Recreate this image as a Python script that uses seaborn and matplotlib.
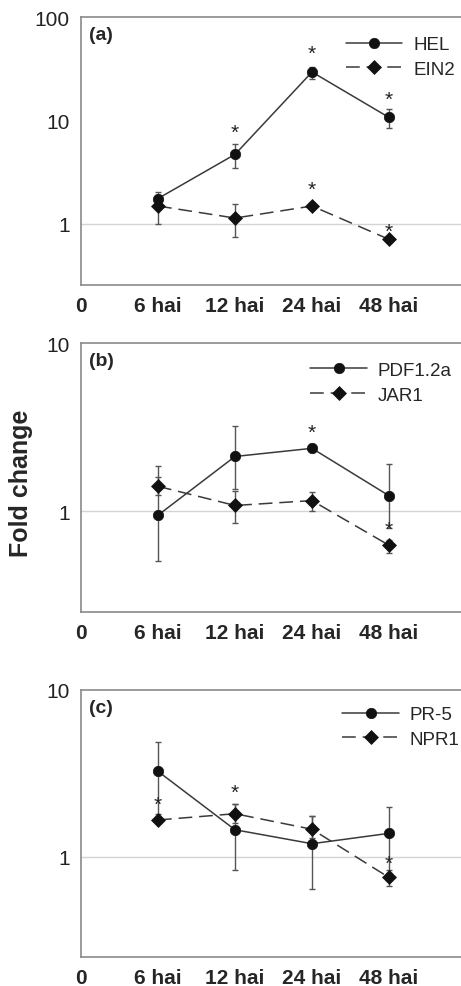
import numpy as np
import pandas as pd
import matplotlib
matplotlib.use("Agg")
import matplotlib.pyplot as plt
import seaborn as sns
from matplotlib.ticker import FixedLocator, FixedFormatter, NullLocator

# ---------------- data ----------------
x_labels = ["0", "6 hai", "12 hai", "24 hai", "48 hai"]
timepoints = ["6 hai", "12 hai", "24 hai", "48 hai"]

# panel (a)
a_genes = ["HEL", "EIN2"]
hel = [1.76, 4.7, 29.4, 10.7]
hel_lo = [1.58, 3.45, 25.0, 8.5]
hel_hi = [2.04, 5.98, 32.9, 12.8]
ein2 = [1.49, 1.14, 1.49, 0.71]
ein2_lo = [0.99, 0.74, 1.40, 0.67]
ein2_hi = [1.90, 1.55, 1.60, 0.75]
a_star_x = ["12 hai", "24 hai", "48 hai", "24 hai", "48 hai"]
a_star_y = [8.0, 47.0, 16.8, 2.28, 0.88]

# panel (b)
b_genes = ["PDF1.2a", "JAR1"]
pdf12a = [0.95, 2.12, 2.37, 1.24]
pdf12a_lo = [0.51, 1.35, 2.25, 0.80]
pdf12a_hi = [1.87, 3.23, 2.50, 1.92]
jar1 = [1.41, 1.085, 1.16, 0.63]
jar1_lo = [1.25, 0.85, 1.01, 0.57]
jar1_hi = [1.60, 1.32, 1.30, 0.68]
b_star_x = ["24 hai", "48 hai"]
b_star_y = [3.05, 0.81]

# panel (c)
c_genes = ["PR-5", "NPR1"]
pr5 = [3.25, 1.45, 1.196, 1.38]
pr5_lo = [1.80, 0.83, 0.64, 0.80]
pr5_hi = [4.89, 2.07, 1.75, 1.99]
npr1 = [1.66, 1.81, 1.46, 0.75]
npr1_lo = [1.60, 1.60, 1.30, 0.67]
npr1_hi = [1.72, 2.07, 1.75, 0.83]
c_star_x = ["6 hai", "12 hai", "48 hai"]
c_star_y = [2.12, 2.5, 0.94]

panel_labels = ["(a)", "(b)", "(c)"]
y_ticks = [[1, 10, 100], [1, 10], [1, 10]]
y_lims = [(0.257, 100), (0.253, 10), (0.25, 10)]

# ---------------- style ----------------
sns.set_style("white")
plt.rcParams["font.family"] = ["Liberation Sans", "DejaVu Sans"]

fig = plt.figure(figsize=(4.61, 9.87), dpi=100)
positions = [
    [81 / 461, 1 - 286 / 987, 380 / 461, (286 - 18) / 987],
    [81 / 461, 1 - 613 / 987, 380 / 461, (613 - 344) / 987],
    [81 / 461, 1 - 958 / 987, 380 / 461, (958 - 691) / 987],
]

xpos = {lab: i for i, lab in enumerate(x_labels)}
line_color = "#3a3a3a"
marker_color = "#111111"
err_color = "#555555"

panels = [
    (a_genes, [(hel, hel_lo, hel_hi), (ein2, ein2_lo, ein2_hi)], a_star_x, a_star_y),
    (b_genes, [(pdf12a, pdf12a_lo, pdf12a_hi), (jar1, jar1_lo, jar1_hi)], b_star_x, b_star_y),
    (c_genes, [(pr5, pr5_lo, pr5_hi), (npr1, npr1_lo, npr1_hi)], c_star_x, c_star_y),
]
legend_anchor = [(0.984, 0.929), (0.976, 0.930), (0.997, 0.940)]

for i, (genes, series, sx, sy) in enumerate(panels):
    ax = fig.add_axes(positions[i])
    rows = []
    for g, (v, lo, hi) in zip(genes, series):
        for t, val in zip(timepoints, v):
            rows.append({"x": xpos[t], "value": val, "gene": g})
    df = pd.DataFrame(rows)

    ax.axhline(1, color="#d4d4d4", lw=1.0, zorder=0)

    for g, (v, lo, hi) in zip(genes, series):
        xs = [xpos[t] for t in timepoints]
        yerr = [np.array(v) - np.array(lo), np.array(hi) - np.array(v)]
        ax.errorbar(xs, v, yerr=yerr, fmt="none", ecolor=err_color,
                    elinewidth=1.0, capsize=2.5, capthick=1.0, zorder=1)

    sns.lineplot(data=df, x="x", y="value", style="gene", ax=ax,
                 markers={genes[0]: "o", genes[1]: "D"},
                 dashes={genes[0]: "", genes[1]: (9, 4.5)},
                 color=line_color, lw=1.1, markersize=7.5,
                 markeredgecolor=marker_color, markerfacecolor=marker_color,
                 markeredgewidth=0.5, zorder=3)

    for xx, yy in zip(sx, sy):
        ax.text(xpos[xx], yy, "*", ha="center", va="center_baseline",
                fontsize=15, color="#222222", zorder=4)

    ax.set_yscale("log")
    ax.set_ylim(*y_lims[i])
    ax.set_xlim(0, 380 / 77)
    ax.yaxis.set_major_locator(FixedLocator(y_ticks[i]))
    ax.yaxis.set_major_formatter(FixedFormatter([str(t) for t in y_ticks[i]]))
    ax.yaxis.set_minor_locator(NullLocator())
    ax.set_xticks(range(len(x_labels)))
    ax.set_xticklabels(x_labels, fontweight="bold", fontsize=15)
    ax.tick_params(axis="y", labelsize=15, length=0, pad=8)
    ax.tick_params(axis="x", length=0, pad=8)
    for lab in ax.get_yticklabels():
        lab.set_color("#222222")
    ax.set_xlabel("")
    ax.set_ylabel("")
    for s in ["left", "bottom", "top"]:
        ax.spines[s].set_color("#8a8a8a")
        ax.spines[s].set_linewidth(1.2)
    ax.spines["right"].set_visible(False)

    ax.text(0.021, 0.935, panel_labels[i], transform=ax.transAxes,
            ha="left", va="center", fontsize=14, fontweight="bold")

    leg = ax.legend(loc="upper right", bbox_to_anchor=legend_anchor[i],
                    frameon=False, fontsize=13.5, handlelength=3.0,
                    labelspacing=0.4, handletextpad=0.6, borderpad=0,
                    borderaxespad=0, title=None)

fig.text(21 / 461, 1 - 483 / 987, "Fold change", rotation=90, ha="center",
         va="center", fontsize=18, fontweight="bold")

fig.savefig("out.png", dpi=100)
